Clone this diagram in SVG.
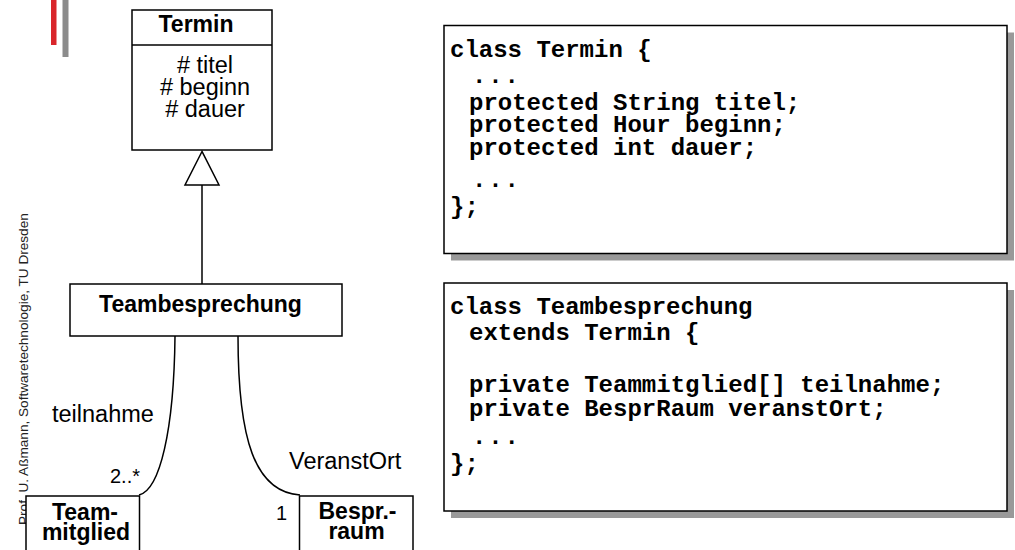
<svg xmlns="http://www.w3.org/2000/svg" width="1015" height="550" viewBox="0 0 1015 550">
<style>
.box{fill:#fff;stroke:#000;stroke-width:1.5}
.shadow{fill:#999;stroke:none}
.ln{fill:none;stroke:#000;stroke-width:1.5}
.b{font-family:"Liberation Sans",Arial,sans-serif;font-weight:bold;font-size:23px;fill:#000}
.r{font-family:"Liberation Sans",Arial,sans-serif;font-size:23.5px;fill:#000}
.s{font-family:"Liberation Sans",Arial,sans-serif;font-size:20px;fill:#000}
.code{font-family:"Liberation Mono","Courier New",monospace;font-weight:bold;font-size:24px;fill:#000}
.dots{letter-spacing:1.8px}
</style>
<rect x="51" y="0" width="5.5" height="45" fill="#d9262b"/>
<rect x="62.5" y="0" width="6" height="57" fill="#8c8c8c"/>
<text transform="translate(27.5,525) rotate(-90)" font-family="'Liberation Sans',Arial,sans-serif" font-size="13.6" fill="#222">Prof. U. Aßmann, Softwaretechnologie, TU Dresden</text>

<g id="connectors">
<line class="ln" x1="202" y1="185" x2="202" y2="284"/>
<path class="ln" d="M175,336 C174,430 160,490 139,495"/>
<path class="ln" d="M238,336 C238,440 255,492 300,495"/>
</g>

<g id="termin">
<rect class="box" x="132" y="10" width="140" height="140"/>
<line class="ln" x1="132" y1="45" x2="272" y2="45"/>
<text class="b" x="196" y="31.7" text-anchor="middle">Termin</text>
<text class="r" x="205" y="72.7" text-anchor="middle"># titel</text>
<text class="r" x="205" y="95" text-anchor="middle"># beginn</text>
<text class="r" x="205" y="117.3" text-anchor="middle"># dauer</text>
<polygon points="202,151.5 185,185 219,185" fill="#fff" stroke="#000" stroke-width="1.5"/>
</g>

<g id="teambesprechung">
<rect class="box" x="70" y="284" width="272" height="52"/>
<text class="b" x="200.5" y="311.7" text-anchor="middle">Teambesprechung</text>
</g>

<g id="labels">
<text class="r" x="52" y="421.7">teilnahme</text>
<text class="s" x="110" y="483.3">2..*</text>
<text class="r" x="289" y="469.3">VeranstOrt</text>
<text class="s" x="276" y="520">1</text>
</g>

<g id="teammitglied">
<rect class="box" x="26" y="496" width="113.5" height="60"/>
<text class="b" x="85" y="519.5" text-anchor="middle">Team-</text>
<text class="b" x="86" y="540" text-anchor="middle">mitglied</text>
</g>

<g id="besprraum">
<rect class="box" x="299.5" y="496" width="113.5" height="60"/>
<text class="b" x="357.5" y="519" text-anchor="middle">Bespr.-</text>
<text class="b" x="356.5" y="539" text-anchor="middle">raum</text>
</g>

<g id="code-termin">
<rect class="shadow" x="451" y="32.5" width="563" height="228"/>
<rect class="box" x="444" y="25.5" width="563" height="228"/>
<text class="code" x="450" y="57">class Termin {</text>
<text class="code dots" x="472" y="82.5">...</text>
<text class="code" x="469" y="109.5">protected String titel;</text>
<text class="code" x="469" y="132">protected Hour beginn;</text>
<text class="code" x="469" y="154.5">protected int dauer;</text>
<text class="code dots" x="472" y="187">...</text>
<text class="code" x="450" y="214">};</text>
</g>

<g id="code-teambesprechung">
<rect class="shadow" x="451" y="290" width="563" height="228"/>
<rect class="box" x="444" y="283" width="563" height="228"/>
<text class="code" x="450" y="314">class Teambesprechung</text>
<text class="code" x="469" y="340">extends Termin {</text>
<text class="code" x="469" y="392">private Teammitglied[] teilnahme;</text>
<text class="code" x="469" y="415.5">private BesprRaum veranstOrt;</text>
<text class="code dots" x="472" y="443.5">...</text>
<text class="code" x="450" y="471">};</text>
</g>
</svg>
